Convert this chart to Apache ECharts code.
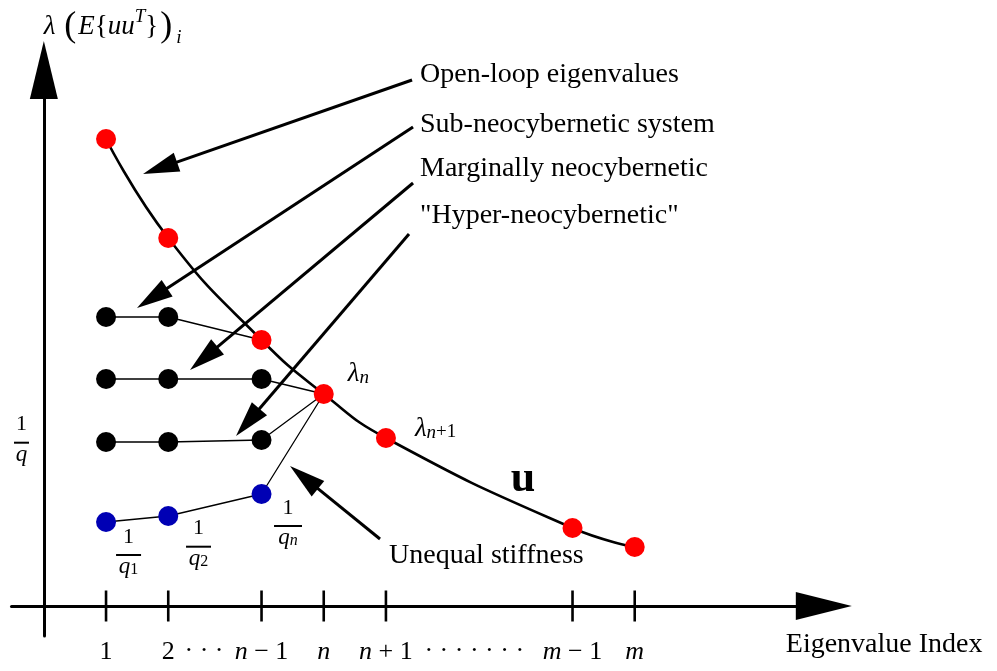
<!DOCTYPE html>
<html>
<head>
<meta charset="utf-8">
<script src="https://cdn.jsdelivr.net/npm/echarts@6/dist/echarts.min.js"></script>
<style>
  html, body { margin: 0; padding: 0; background: #fff; }
  #chart { width: 997px; height: 671px; }
</style>
</head>
<body>
<div id="chart"></div>
<script>
// Eigenvalue index positions on the horizontal axis and their tick labels
const indexPositions = [1, 2, 3.5, 4.5, 5.5, 8.5, 9.5];
const indexLabels = ['1', '2', '{i|n} − 1', '{i|n}', '{i|n} + 1', '{i|m} − 1', '{i|m}'];

// Open-loop eigenvalues λ_i of E{uu^T}, one per index position (curve u)
const openLoop = [46.7, 36.8, 26.6, 21.2, 16.8, 7.8, 5.9];

// Closed-loop eigenvalue levels for the leading indices
const subNeoIdx = [1, 2];
const subNeo = [28.9, 28.9];
const marginalIdx = [1, 2, 3.5];
const marginal = [22.7, 22.7, 22.7];
const hyperIdx = [1, 2, 3.5];
const hyper = [16.4, 16.4, 16.6];
const unequalIdx = [1, 2, 3.5];
const unequal = [8.4, 9.0, 11.2];

// Callout texts and the fraction labels 1/q, 1/q_i
const calloutLabels = ['Open-loop eigenvalues', 'Sub-neocybernetic system',
  'Marginally neocybernetic', '"Hyper-neocybernetic"', 'Unequal stiffness'];
const fractionSubs = ['', '1', '2', 'n'];

// ---- layout of annotations (axis units) ----
const calloutLayout = [
  { text: [6.048, 53.1], tail: [5.920, 52.6], tip: [1.595, 43.2] },
  { text: [6.048, 48.15], tail: [5.936, 47.9], tip: [1.498, 29.8] },
  { text: [6.048, 43.7], tail: [5.936, 42.3], tip: [2.350, 23.6] },
  { text: [6.048, 39.0], tail: [5.871, 37.2], tip: [3.090, 17.0] },
  { text: [5.550, 5.0],  tail: [5.405, 6.7],  tip: [3.958, 14.0] }
];
const fractionLayout = [
  { at: [-0.359, 16.33], w: 15 },
  { at: [1.362, 5.10], w: 25 },
  { at: [2.487, 5.93], w: 25 },
  { at: [3.926, 8.00], w: 28 }
];
const dotRuns = [
  { at: [2.575, -4.5], text: '· · ·' },
  { at: [6.92, -4.5], text: '· · · · · · ·' }
];
const curveNameAt = [7.704, 12.6];

const SERIF = '"Liberation Serif", "DejaVu Serif", serif';
const pairs = (xs, ys) => xs.map((x, i) => [x, ys[i]]);
const lambdaAt = x => openLoop[indexPositions.indexOf(x)];

const chart = echarts.init(document.getElementById('chart'), null, { renderer: 'canvas' });

const thinLine = { color: '#000', width: 1.3 };
function connector(xs, ys, target) {
  return {
    type: 'line', silent: true, showSymbol: false, z: 2, animation: false,
    data: pairs(xs, ys).concat([[target, lambdaAt(target)]]),
    lineStyle: thinLine
  };
}

function renderArrow(params, api) {
  const a = api.coord([api.value(0), api.value(1)]);
  const b = api.coord([api.value(2), api.value(3)]);
  const dx = b[0] - a[0], dy = b[1] - a[1];
  const len = Math.hypot(dx, dy);
  const ux = dx / len, uy = dy / len;
  const headLen = 36, half = 10;
  const bx = b[0] - ux * headLen, by = b[1] - uy * headLen;
  return {
    type: 'group',
    children: [
      { type: 'line', shape: { x1: a[0], y1: a[1], x2: bx + ux * 4, y2: by + uy * 4 },
        style: { stroke: '#000', lineWidth: 3 } },
      { type: 'polygon', shape: { points: [[b[0], b[1]], [bx - uy * half, by + ux * half], [bx + uy * half, by - ux * half]] },
        style: { fill: '#000' } }
    ]
  };
}

// Index ticks cross the horizontal axis; each carries its label underneath
function renderTick(params, api) {
  const p = api.coord([api.value(0), api.value(1)]);
  return {
    type: 'group',
    children: [
      { type: 'line', shape: { x1: p[0], y1: p[1] - 15.5, x2: p[0], y2: p[1] + 15.5 },
        style: { stroke: '#000', lineWidth: 2.6 } },
      { type: 'text', x: p[0], y: p[1] + 46,
        style: { text: indexLabels[params.dataIndex], fill: '#000', fontSize: 26, fontFamily: SERIF,
          align: 'center', verticalAlign: 'middle',
          rich: { i: { fontSize: 26, fontStyle: 'italic', fontFamily: SERIF } } } }
    ]
  };
}

function renderCallout(params, api) {
  const p = api.coord([api.value(0), api.value(1)]);
  return { type: 'text', x: p[0], y: p[1],
    style: { text: calloutLabels[params.dataIndex], fill: '#000', fontSize: 28, fontFamily: SERIF,
      align: 'left', verticalAlign: 'middle' } };
}

function renderDots(params, api) {
  const p = api.coord([api.value(0), api.value(1)]);
  return { type: 'text', x: p[0], y: p[1],
    style: { text: dotRuns[params.dataIndex].text, fill: '#000', fontSize: 26, fontFamily: SERIF,
      align: 'center', verticalAlign: 'middle' } };
}

function renderFraction(params, api) {
  const p = api.coord([api.value(0), api.value(1)]);
  const f = fractionLayout[params.dataIndex];
  const sub = fractionSubs[params.dataIndex];
  const den = sub === '' ? '{q|q}' : (sub === 'n' ? '{q|q}{si|n}' : '{q|q}{s|' + sub + '}');
  return {
    type: 'group',
    children: [
      { type: 'text', x: p[0], y: p[1] - 18,
        style: { text: '1', fill: '#000', fontSize: 22, fontFamily: SERIF, align: 'center', verticalAlign: 'middle' } },
      { type: 'rect', shape: { x: p[0] - f.w / 2, y: p[1] - 1, width: f.w, height: 2 }, style: { fill: '#000' } },
      { type: 'text', x: p[0], y: p[1] + 12,
        style: { text: den, fill: '#000', fontSize: 22, fontFamily: SERIF, align: 'center', verticalAlign: 'middle',
          rich: {
            q: { fontSize: 23, fontStyle: 'italic', fontFamily: SERIF, lineHeight: 22 },
            s: { fontSize: 16, fontFamily: SERIF, lineHeight: 12, verticalAlign: 'bottom' },
            si: { fontSize: 16, fontStyle: 'italic', fontFamily: SERIF, lineHeight: 12, verticalAlign: 'bottom' }
          } } }
    ]
  };
}

function renderCurveName(params, api) {
  const p = api.coord([api.value(0), api.value(1)]);
  return { type: 'text', x: p[0], y: p[1],
    style: { text: 'u', fill: '#000', fontSize: 44, fontWeight: 'bold', fontFamily: SERIF,
      align: 'center', verticalAlign: 'middle' } };
}

const lambdaRich = {
  l: { fontSize: 27, fontStyle: 'italic', fontFamily: SERIF, lineHeight: 26, color: '#000' },
  s: { fontSize: 19, fontStyle: 'italic', fontFamily: SERIF, lineHeight: 10, verticalAlign: 'bottom', color: '#000' },
  r: { fontSize: 19, fontFamily: SERIF, lineHeight: 10, verticalAlign: 'bottom', color: '#000' }
};

const redData = pairs(indexPositions, openLoop).map((v, i) => {
  const item = { value: v };
  if (i === 3) {
    item.label = { show: true, formatter: '{l|λ}{s|n}', position: 'right', distance: 14, offset: [0, -20], rich: lambdaRich };
  } else if (i === 4) {
    item.label = { show: true, formatter: '{l|λ}{s|n}{r|+1}', position: 'right', distance: 19, offset: [0, -9], rich: lambdaRich };
  }
  return item;
});

const blackData = pairs(subNeoIdx, subNeo).concat(pairs(marginalIdx, marginal), pairs(hyperIdx, hyper));

const option = {
  animation: false,
  backgroundColor: '#fff',
  textStyle: { fontFamily: SERIF, color: '#000' },
  grid: { left: 11.5, top: 70, width: 812.3, height: 566, containLabel: false, outerBoundsMode: 'none' },
  xAxis: {
    type: 'value', min: -0.52, max: 12.54,
    axisLine: { show: true, onZero: true, symbol: ['none', 'triangle'], symbolSize: [28, 56],
      lineStyle: { color: '#000', width: 3 } },
    axisTick: { show: false },
    splitLine: { show: false },
    axisLabel: { show: false },
    name: 'Eigenvalue Index', nameLocation: 'end', nameGap: -38,
    nameTextStyle: { fontSize: 28, fontFamily: SERIF, color: '#000', align: 'left', verticalAlign: 'top', padding: [25, 0, 0, 0] }
  },
  yAxis: {
    type: 'value', min: -3, max: 53.6,
    axisLine: { show: true, onZero: true, symbol: ['none', 'triangle'], symbolSize: [28, 58],
      lineStyle: { color: '#000', width: 3 } },
    axisTick: { show: false },
    axisLabel: { show: false },
    splitLine: { show: false },
    name: '{m|λ} {p|(}{m|E}{{m|uu}{sup|T}}{p|)}{sub|i}', nameLocation: 'end', nameGap: 23,
    nameTextStyle: {
      fontSize: 27, fontFamily: SERIF, color: '#000', align: 'left', verticalAlign: 'bottom',
      rich: {
        m: { fontSize: 27, fontStyle: 'italic', fontFamily: SERIF, color: '#000' },
        p: { fontSize: 36, fontFamily: SERIF, lineHeight: 40, padding: [0, 2, 0, 2], color: '#000' },
        sup: { fontSize: 19, fontStyle: 'italic', fontFamily: SERIF, lineHeight: 16, verticalAlign: 'top', color: '#000' },
        sub: { fontSize: 19, fontStyle: 'italic', fontFamily: SERIF, lineHeight: 16, verticalAlign: 'bottom', padding: [0, 0, 0, 2], color: '#000' }
      }
    }
  },
  series: [
    { type: 'line', name: 'u', silent: true, showSymbol: false, z: 2,
      smooth: 0.5,
      data: pairs(indexPositions, openLoop),
      lineStyle: { color: '#000', width: 2.6 } },
    connector(subNeoIdx, subNeo, 3.5),
    connector(marginalIdx, marginal, 4.5),
    connector(hyperIdx, hyper, 4.5),
    connector(unequalIdx, unequal, 4.5),
    { type: 'custom', silent: true, z: 3, renderItem: renderTick,
      data: indexPositions.map(x => [x, 0]) },
    { type: 'scatter', silent: true, z: 5, symbolSize: 20, itemStyle: { color: '#000', opacity: 1 },
      data: blackData },
    { type: 'scatter', silent: true, z: 5, symbolSize: 20, itemStyle: { color: '#0000b4', opacity: 1 },
      data: pairs(unequalIdx, unequal) },
    { type: 'scatter', silent: true, z: 6, symbolSize: 20, itemStyle: { color: '#ff0000', opacity: 1 },
      data: redData },
    { type: 'custom', silent: true, z: 7, renderItem: renderArrow,
      data: calloutLayout.map(c => [c.tail[0], c.tail[1], c.tip[0], c.tip[1]]) },
    { type: 'custom', silent: true, z: 7, renderItem: renderCallout,
      data: calloutLayout.map(c => c.text) },
    { type: 'custom', silent: true, z: 7, renderItem: renderFraction,
      data: fractionLayout.map(f => f.at) },
    { type: 'custom', silent: true, z: 7, renderItem: renderDots,
      data: dotRuns.map(d => d.at) },
    { type: 'custom', silent: true, z: 7, renderItem: renderCurveName,
      data: [curveNameAt] }
  ]
};

chart.setOption(option);
</script>
</body>
</html>
